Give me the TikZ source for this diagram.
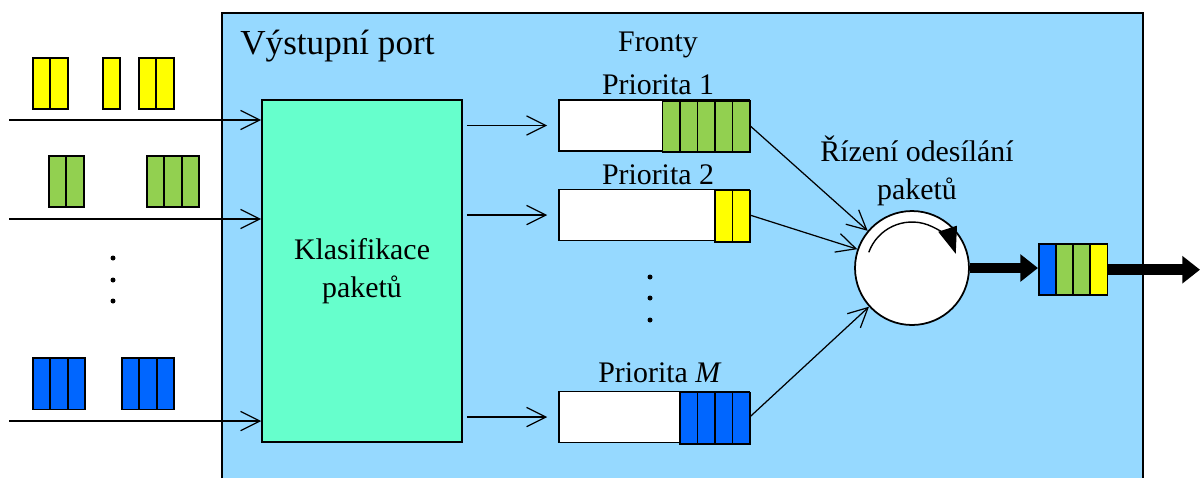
\documentclass[tikz,border=0pt]{standalone}
\usepackage{fontspec}
\setmainfont{Liberation Serif}
\usetikzlibrary{positioning,
calc,
shapes.geometric,
arrows.meta}
\definecolor{portblue}{RGB}{150,217,255}
\definecolor{klasgreen}{RGB}{102,255,204}
\definecolor{pgreen}{RGB}{146,208,80}
\definecolor{pyellow}{RGB}{255,255,0}
\definecolor{pblue}{RGB}{0,102,255}
\tikzstyle{Barb} = [
line width=0.7pt,
-{Straight Barb[length=11pt,width=11pt]}
]
\tikzstyle{Fat} = [
line width=6pt,
-{Triangle[length=10pt,width=15pt]}
]
\tikzstyle{cell} = [draw, line width=1.1pt, minimum width=0.35cm,
minimum height=1.03cm, inner sep=0, anchor=north west]
\tikzstyle{queue} = [draw, fill=white, line width=0.9pt, minimum width=3.8cm,
minimum height=1.02cm, inner sep=0]
\tikzstyle{txt} = [font=\fontsize{17}{22}\selectfont, align=center, inner sep=0]
\tikzstyle{dot} = [circle, fill=black, inner sep=0, minimum size=0.1cm]
% one packet: name, x, y, cells, colour
\newcommand{\pkt}[5]{%
  \foreach \i in {1,...,#4}{
    \node[cell, fill=#5] (#1-\i) at ({#2+17.5*(\i-1)},#3) {};
  }}

\begin{document}
\begin{tikzpicture}[x=0.02cm, y=-0.02cm]
   \useasboundingbox (0,0) rectangle (1201,478);
   % output port
   \fill[portblue] (222,13) rectangle (1143,478);
   \draw[line width=0.9pt] (222,478) -- (222,13) -- (1143,13) -- (1143,478);
   \node[txt, font=\fontsize{20}{24}\selectfont, anchor=west] (port) at (240,46) {Výstupní port};
   \node[txt] (fronty) at (658,45) {Fronty};

   % incoming packets
   \pkt{ya}{32}{57}{2}{pyellow}
   \pkt{yb}{102}{57}{1}{pyellow}
   \pkt{yc}{138}{57}{2}{pyellow}
   \pkt{ga}{48}{155}{2}{pgreen}
   \pkt{gb}{146}{155}{3}{pgreen}
   \pkt{ba}{32}{357}{3}{pblue}
   \pkt{bb}{121}{357}{3}{pblue}
   \node[dot] (l1) at (113,258) {};
   \node[dot] (l2) at (113,280) {};
   \node[dot] (l3) at (113,301) {};

   \node[draw, fill=klasgreen, line width=0.9pt, minimum width=4cm,
     minimum height=6.84cm, txt] (klas) at (362,271) {Klasifikace\\paketů};

   \coordinate (in1) at (9,120);
   \coordinate (in2) at (9,219);
   \coordinate (in3) at (9,421);
   \draw [Barb] (in1) -- (in1 -| klas.west);
   \draw [Barb] (in2) -- (in2 -| klas.west);
   \draw [Barb] (in3) -- (in3 -| klas.west);

   % queues
   \node[queue] (q1) at (654,125.5) {};
   \node[queue] (q2) at (654,215) {};
   \node[queue] (qm) at (654,417) {};
   \pkt{c1}{661.5}{100}{5}{pgreen}
   \pkt{c2}{714}{189.5}{2}{pyellow}
   \pkt{cm}{679}{391.5}{4}{pblue}
   \node[txt] (p1) at (658,85) {Priorita 1};
   \node[txt] (p2) at (658,175) {Priorita 2};
   \node[txt] (pm) at (660,373) {Priorita \textit{M}};
   \node[dot] (m1) at (650,277) {};
   \node[dot] (m2) at (650,298) {};
   \node[dot] (m3) at (650,320) {};

   \draw [Barb] ($(klas.east |- q1)+(4,0)$) -- ($(q1.west)+(-11,0)$);
   \draw [Barb] ($(klas.east |- q2)+(4,0)$) -- ($(q2.west)+(-11,0)$);
   \draw [Barb] ($(klas.east |- qm)+(4,0)$) -- ($(qm.west)+(-11,0)$);

   % scheduler
   \node[circle, draw, fill=white, line width=1pt, minimum size=2.28cm] (ctrl) at (912,268) {};
   \node[txt] (ctrltxt) at (917,171) {Řízení odesílání\\paketů};
   \draw[line width=0.8pt, -{Triangle[length=15pt,width=11pt]}]
     ([shift={(160:0.92cm)}]ctrl.center) arc[start angle=160, end angle=18, radius=0.92cm];
   \draw [Barb] (q1.east) -- (ctrl.140);
   \draw [Barb] (q2.east) -- (ctrl.161);
   \draw [Barb] (qm.east) -- (ctrl.222);

   % outgoing packet
   \foreach \c [count=\i] in {pblue,pgreen,pgreen,pyellow}{
     \node[cell, fill=\c] (out-\i) at ({1038+17*(\i-1)},243) {};
   }
   \coordinate (exit) at (1200,268);
   \draw [Fat] (ctrl.east) -- (ctrl.east -| out-1.west);
   \draw [Fat] (out-4.east) -- (exit |- out-4.east);
\end{tikzpicture}
\end{document}
